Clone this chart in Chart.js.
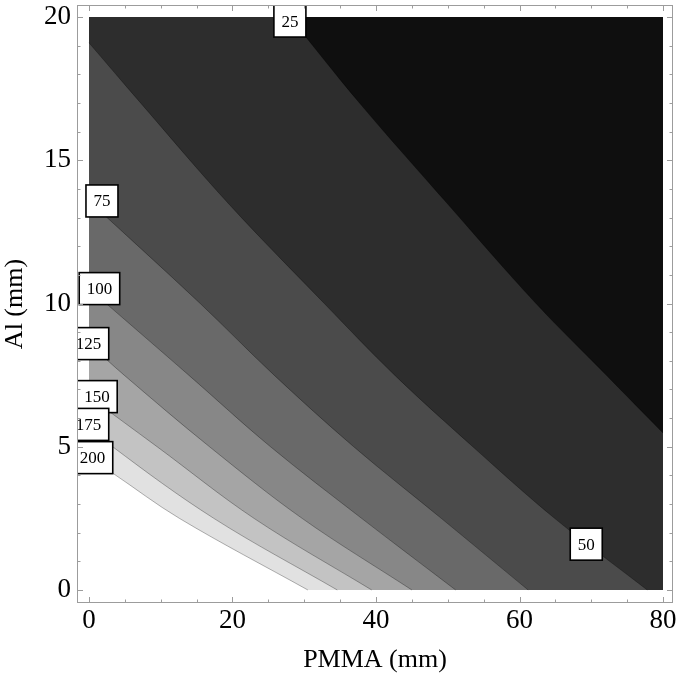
<!DOCTYPE html>
<html>
<head>
<meta charset="utf-8">
<script src="https://cdn.jsdelivr.net/npm/chart.js@4"></script>
<style>
  body { margin: 0; background: #fff; }
  #wrap { width: 678px; height: 677px; }
</style>
</head>
<body>
<div id="wrap"><canvas id="contourChart"></canvas></div>
<script>
// contour levels (dose) and their boundary lines
const levels = [25, 50, 75, 100, 125, 150, 175, 200];

const pmma25 = [28.0, 37.7, 49.9, 62.3, 72.1, 80];
const al25   = [20, 17, 13.5, 10, 7.5, 5.48];

const pmma50 = [0, 7.2, 19.4, 32.8, 42.6, 53.5, 64.9, 77.8];
const al50   = [19.1, 17, 13.5, 10, 7.5, 5, 2.5, 0];

const pmma75 = [0, 15.5, 25.8, 36.9, 49.1, 61.2];
const al75   = [13.58, 10, 7.5, 5, 2.5, 0];

const pmma100 = [0, 13.9, 25.3, 38.0, 51.1];
const al100   = [10.52, 7.5, 5, 2.5, 0];

const pmma125 = [0, 4.9, 16.8, 29.7, 45.0];
const al125   = [8.6, 7.5, 5, 2.5, 0];

const pmma150 = [0, 9.5, 23.0, 39.4];
const al150   = [6.75, 5, 2.5, 0];

const pmma175 = [0, 3.3, 17.4, 34.6];
const al175   = [5.78, 5, 2.5, 0];

const pmma200 = [0, 3.3, 12.6, 30.5];
const al200   = [4.62, 4.08, 2.5, 0];

// where the level labels sit
const labelPmma = [28.0, 69.3, 1.81, 1.46, -0.07, 1.11, -0.07, 0.49];
const labelAl   = [19.86, 1.6, 13.58, 10.52, 8.6, 6.75, 5.78, 4.62];

const xTicks = [0, 20, 40, 60, 80];
const yTicks = [0, 5, 10, 15, 20];
const xRange = [0, 80];
const yRange = [0, 20];

// grey of each band, from below 25 up to above 200
const bandGrey = ['#0f0f0f', '#2d2d2d', '#4b4b4b', '#696969', '#878787', '#a5a5a5', '#c3c3c3', '#e1e1e1', '#ffffff'];

const contourX = [pmma25, pmma50, pmma75, pmma100, pmma125, pmma150, pmma175, pmma200];
const contourY = [al25, al50, al75, al100, al125, al150, al175, al200];

const FONT = "'Liberation Serif', 'Times New Roman', serif";

function pts(xs, ys) {
    return xs.map((x, i) => ({ x: x, y: ys[i] }));
}

const datasets = [];
// 25..50 band as the base of the data square
datasets.push({
    data: [{ x: xRange[0], y: yRange[1] }, { x: xRange[1], y: yRange[1] }],
    showLine: true,
    borderWidth: 0,
    borderColor: 'transparent',
    backgroundColor: bandGrey[1],
    fill: { value: yRange[0] },
    pointRadius: 0,
    order: 20
});
levels.forEach((lv, i) => {
    datasets.push({
        label: String(lv),
        data: pts(contourX[i], contourY[i]),
        showLine: true,
        borderColor: 'rgba(0,0,0,0.3)',
        borderWidth: 1,
        // below 25 lies above the first line, the others fill downwards
        backgroundColor: i === 0 ? bandGrey[0] : bandGrey[i + 1],
        fill: i === 0 ? { value: yRange[1] } : { value: yRange[0] },
        pointRadius: 0,
        tension: 0.35,
        order: 19 - i
    });
});

const frameTicks = {
    id: 'frameTicks',
    afterDatasetsDraw(chart) {
        const { ctx, chartArea: a, scales: { x, y } } = chart;
        ctx.save();
        ctx.beginPath();
        ctx.rect(a.left, a.top, a.right - a.left, a.bottom - a.top);
        ctx.clip();
        ctx.font = '17px ' + FONT;
        ctx.textAlign = 'center';
        ctx.textBaseline = 'middle';
        levels.forEach((lv, i) => {
            const px = x.getPixelForValue(labelPmma[i]);
            const py = y.getPixelForValue(labelAl[i]);
            const txt = String(lv);
            const w = ctx.measureText(txt).width + 15;
            const h = 32;
            ctx.fillStyle = '#fff';
            ctx.fillRect(px - w / 2, py - h / 2, w, h);
            ctx.strokeStyle = '#000';
            ctx.lineWidth = 1.6;
            ctx.strokeRect(px - w / 2, py - h / 2, w, h);
            ctx.fillStyle = '#000';
            ctx.fillText(txt, px, py + 1);
        });
        ctx.restore();
    },
    afterDraw(chart) {
        const { ctx, chartArea: a, scales: { x, y } } = chart;
        ctx.save();
        ctx.strokeStyle = '#9c9c9c';
        ctx.lineWidth = 1;
        ctx.strokeRect(a.left + 0.5, a.top + 0.5, a.right - a.left - 1, a.bottom - a.top - 1);
        ctx.beginPath();
        for (let v = 0; v <= 80; v += 5) {
            const len = xTicks.includes(v) ? 6 : 3.5;
            const px = Math.round(x.getPixelForValue(v)) + 0.5;
            ctx.moveTo(px, a.bottom); ctx.lineTo(px, a.bottom - len);
            ctx.moveTo(px, a.top); ctx.lineTo(px, a.top + len);
        }
        for (let v = 0; v <= 20; v += 1) {
            const len = yTicks.includes(v) ? 6 : 3.5;
            const py = Math.round(y.getPixelForValue(v)) + 0.5;
            ctx.moveTo(a.left, py); ctx.lineTo(a.left + len, py);
            ctx.moveTo(a.right, py); ctx.lineTo(a.right - len, py);
        }
        ctx.stroke();
        ctx.restore();
    }
};

new Chart(document.getElementById('contourChart'), {
    type: 'scatter',
    data: { datasets: datasets },
    options: {
        responsive: true,
        maintainAspectRatio: false,
        animation: false,
        layout: { padding: { left: 0, right: 5, top: 5, bottom: 0 } },
        plugins: { legend: { display: false }, tooltip: { enabled: false } },
        scales: {
            x: {
                type: 'linear',
                min: -1.67,
                max: 81.39,
                grid: { display: false, drawTicks: false },
                border: { display: false },
                afterBuildTicks: s => { s.ticks = xTicks.map(v => ({ value: v })); },
                afterFit: s => { s.height = 74; s.paddingLeft = 0; s.paddingRight = 0; },
                ticks: { color: '#000', font: { family: FONT, size: 27 }, padding: 2, maxRotation: 0 },
                title: { display: true, text: 'PMMA (mm)', color: '#000', font: { family: FONT, size: 26 }, padding: { top: 0, bottom: 1 } }
            },
            y: {
                type: 'linear',
                min: -0.454,
                max: 20.42,
                grid: { display: false, drawTicks: false },
                border: { display: false },
                afterBuildTicks: s => { s.ticks = yTicks.map(v => ({ value: v })); },
                afterFit: s => { s.width = 77; s.paddingTop = 0; s.paddingBottom = 0; },
                ticks: { color: '#000', font: { family: FONT, size: 27 }, padding: 6 },
                title: { display: true, text: 'Al (mm)', color: '#000', font: { family: FONT, size: 26 }, padding: { top: 0, bottom: 11 } }
            }
        }
    },
    plugins: [frameTicks]
});
</script>
</body>
</html>
